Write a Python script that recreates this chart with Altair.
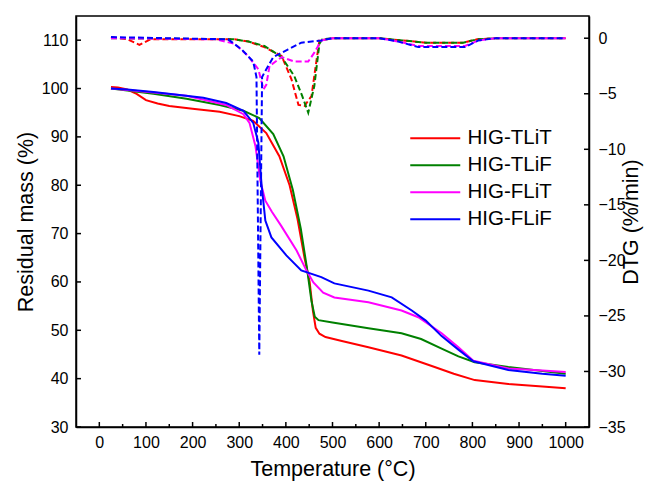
import altair as alt
import pandas as pd

# ---------- data ----------
series = ["HIG-TLiT", "HIG-TLiF", "HIG-FLiT", "HIG-FLiF"]
colors = ["#FF0000", "#008000", "#FF00FF", "#0000FF"]

# TGA (residual mass, %)
tga_T_TLiT = [25, 40, 60, 80, 100, 125, 150, 200, 258, 300, 330, 358, 386, 408, 425, 440, 451, 458, 464, 472, 485, 520, 577, 648, 719, 760, 805, 877, 950, 1000]
tga_m_TLiT = [100.3, 100.2, 99.8, 98.9, 97.6, 96.9, 96.4, 95.8, 95.2, 94.3, 93.3, 90.8, 86.0, 80.0, 73.0, 65.0, 60.0, 54.0, 50.5, 49.3, 48.6, 47.8, 46.5, 44.8, 42.4, 41.0, 39.7, 38.9, 38.4, 38.0]

tga_T_TLiF = [25, 60, 116, 187, 258, 309, 343, 373, 395, 415, 432, 445, 455, 462, 470, 500, 577, 648, 690, 734, 770, 805, 877, 950, 1000]
tga_m_TLiF = [100.0, 99.6, 98.9, 97.9, 96.6, 95.4, 93.9, 90.6, 86.0, 79.0, 71.0, 63.0, 56.0, 52.8, 52.1, 51.6, 50.4, 49.4, 48.2, 46.2, 44.6, 43.4, 42.4, 41.6, 41.0]

tga_T_FLiT = [25, 60, 116, 187, 272, 309, 322, 335, 345, 356, 370, 390, 423, 444, 459, 480, 504, 577, 648, 684, 734, 770, 802, 877, 950, 1000]
tga_m_FLiT = [100.0, 99.7, 99.2, 98.5, 96.6, 94.7, 92.9, 88.0, 81.0, 76.8, 74.5, 71.6, 66.5, 62.4, 59.9, 57.8, 56.8, 55.8, 54.1, 52.7, 49.4, 46.5, 43.7, 42.1, 41.7, 41.4]

tga_T_FLiF = [25, 60, 116, 223, 272, 309, 330, 341, 348, 356, 369, 401, 433, 476, 504, 577, 627, 670, 700, 734, 770, 802, 877, 950, 1000]
tga_m_FLiF = [100.0, 99.8, 99.3, 98.1, 97.0, 95.4, 92.9, 88.8, 80.0, 72.7, 69.2, 65.5, 62.4, 61.0, 59.7, 58.2, 56.8, 54.1, 52.0, 48.8, 46.0, 43.6, 41.8, 41.0, 40.6]

# DTG (%/min)
dtg_T_TLiT = [25, 60, 86, 110, 150, 290, 320, 354, 391, 412, 427, 440, 455, 466, 472, 500, 600, 650, 700, 780, 810, 850, 1000]
dtg_d_TLiT = [0.1, -0.1, -0.6, -0.1, -0.1, -0.1, -0.3, -0.8, -1.6, -3.7, -6.0, -6.1, -5.2, -1.9, -0.2, 0.0, 0.0, -0.2, -0.4, -0.4, -0.1, 0.0, 0.0]

dtg_T_TLiF = [25, 290, 320, 354, 391, 418, 435, 448, 461, 472, 478, 500, 600, 650, 700, 780, 810, 850, 1000]
dtg_d_TLiF = [0.0, -0.1, -0.3, -0.7, -1.7, -3.4, -5.2, -6.7, -4.3, -0.5, -0.1, 0.0, 0.0, -0.2, -0.4, -0.4, -0.1, 0.0, 0.0]

dtg_T_FLiT = [25, 250, 290, 319, 341, 352, 358, 365, 391, 418, 448, 461, 476, 500, 600, 641, 684, 784, 813, 850, 1000]
dtg_d_FLiT = [0.0, -0.1, -0.5, -1.6, -2.8, -4.6, -4.2, -2.5, -1.7, -2.1, -2.1, -1.3, -0.2, 0.0, 0.0, -0.3, -0.7, -0.7, -0.2, 0.0, 0.0]

dtg_T_FLiF = [25, 276, 305, 330, 337, 343, 349, 354, 373, 405, 433, 476, 500, 600, 641, 684, 784, 813, 850, 1000]
dtg_d_FLiF = [0.1, -0.1, -1.0, -2.1, -3.5, -28.5, -3.5, -3.1, -1.7, -1.0, -0.4, -0.2, 0.0, 0.0, -0.3, -0.8, -0.8, -0.2, 0.0, 0.0]

x_major = [0, 100, 200, 300, 400, 500, 600, 700, 800, 900, 1000]
x_minor = [50, 150, 250, 350, 450, 550, 650, 750, 850, 950]
y_left_ticks = [30, 40, 50, 60, 70, 80, 90, 100, 110]
y_right_ticks = [-35, -30, -25, -20, -15, -10, -5, 0]

# ---------- tables ----------
tga_sets = [(tga_T_TLiT, tga_m_TLiT), (tga_T_TLiF, tga_m_TLiF), (tga_T_FLiT, tga_m_FLiT), (tga_T_FLiF, tga_m_FLiF)]
dtg_sets = [(dtg_T_TLiT, dtg_d_TLiT), (dtg_T_TLiF, dtg_d_TLiF), (dtg_T_FLiT, dtg_d_FLiT), (dtg_T_FLiF, dtg_d_FLiF)]

tga_rows, dtg_rows = [], []
for i, s in enumerate(series):
    for j, (t, v) in enumerate(zip(*tga_sets[i])):
        tga_rows.append({"series": s, "T": t, "mass": v, "order": j})
    for j, (t, v) in enumerate(zip(*dtg_sets[i])):
        dtg_rows.append({"series": s, "T": t, "dtg": v, "order": j})
tga_df = pd.DataFrame(tga_rows)
dtg_df = pd.DataFrame(dtg_rows)

FONT = "Liberation Sans"
W, H = 513, 411

x_scale = alt.Scale(domain=[-50, 1050], nice=False, zero=False)
yl_scale = alt.Scale(domain=[30, 115], nice=False, zero=False)
yr_scale = alt.Scale(domain=[-35, 2], nice=False, zero=False)

x_axis = alt.Axis(title="Temperature (°C)", values=x_major, format="d", tickSize=0,
                  labelPadding=7, titlePadding=8, grid=False, domainColor="black",
                  domainWidth=1.5)
yl_axis = alt.Axis(title="Residual mass (%)", values=y_left_ticks, format="d", tickSize=0,
                   labelPadding=8, titlePadding=4, grid=False, domainColor="black",
                   domainWidth=1.5, orient="left")
yr_axis = alt.Axis(title="DTG (%/min)", values=y_right_ticks, format="d", tickSize=0,
                   labelPadding=9, titlePadding=17, titleAngle=270, grid=False,
                   domainColor="black", domainWidth=1.5, orient="right")

color_scale = alt.Scale(domain=series, range=colors)

tga = alt.Chart(tga_df).mark_line(strokeWidth=2).encode(
    x=alt.X("T:Q", scale=x_scale, axis=x_axis),
    y=alt.Y("mass:Q", scale=yl_scale, axis=yl_axis),
    color=alt.Color("series:N", scale=color_scale, sort=series,
                    legend=alt.Legend(orient="none", legendX=349, legendY=112, title=None,
                                      symbolType="M-5,0H5", symbolSize=100,
                                      symbolStrokeWidth=2.2, labelOffset=22,
                                      labelFontSize=20.5, labelFont=FONT, labelColor="black",
                                      rowPadding=6)),
    order="order:Q",
)

xt_major = alt.Chart(pd.DataFrame({"t": x_major})).mark_rule(color="black", strokeWidth=1.5).encode(
    x=alt.X("t:Q", scale=x_scale, axis=x_axis), y=alt.value(H), y2=alt.value(H - 5))
xt_minor = alt.Chart(pd.DataFrame({"t": x_minor})).mark_rule(color="black", strokeWidth=1.5).encode(
    x=alt.X("t:Q", scale=x_scale, axis=x_axis), y=alt.value(H), y2=alt.value(H - 3))
yt_left = alt.Chart(pd.DataFrame({"v": y_left_ticks})).mark_rule(color="black", strokeWidth=1.5).encode(
    y=alt.Y("v:Q", scale=yl_scale, axis=yl_axis), x=alt.value(0), x2=alt.value(5))

left = alt.layer(tga, xt_major, xt_minor, yt_left)

dtg = alt.Chart(dtg_df).mark_line(strokeWidth=2, strokeDash=[6, 3]).encode(
    x=alt.X("T:Q", scale=x_scale, axis=x_axis),
    y=alt.Y("dtg:Q", scale=yr_scale, axis=yr_axis),
    color=alt.Color("series:N", scale=color_scale, sort=series, legend=None),
    order="order:Q",
)
yt_right = alt.Chart(pd.DataFrame({"v": y_right_ticks})).mark_rule(color="black", strokeWidth=1.5).encode(
    y=alt.Y("v:Q", scale=yr_scale, axis=yr_axis), x=alt.value(W), x2=alt.value(W - 5))

right = alt.layer(dtg, yt_right)

chart = alt.layer(left, right).resolve_scale(y="independent").properties(
    width=W, height=H,
    background="white",
    autosize=alt.AutoSizeParams(type="none"),
    padding={"left": 68, "top": 8, "right": 56, "bottom": 55},
).configure_view(stroke="black", strokeWidth=1.5).configure_axis(
    labelFont=FONT, titleFont=FONT, labelFontSize=16, titleFontSize=21.5,
    labelColor="black", titleColor="black", titleFontWeight="normal",
)

chart.save("out.html", embed_options={"renderer": "svg", "actions": False})
